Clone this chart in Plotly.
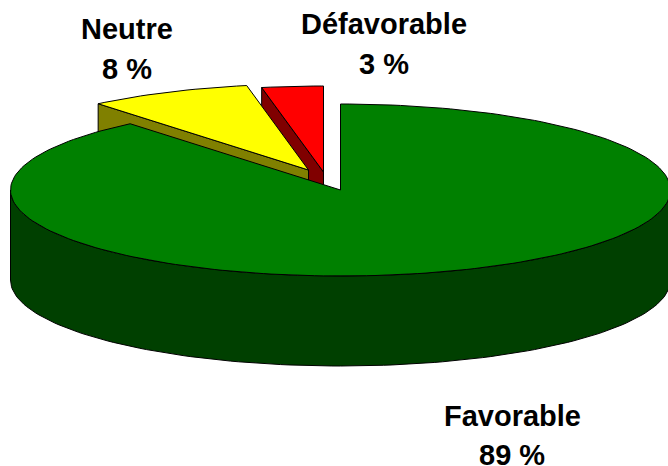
import numpy as np
import plotly.graph_objects as go

categories = ["Favorable", "Neutre", "Défavorable"]
values = [89, 8, 3]
top_colors = ["#008000", "#ffff00", "#ff0000"]
side_colors = ["#004000", "#808000", "#800000"]

# Pixel-like geometry of the projected pie
CX, CY, RX, RY, DEPTH = 340.5, 190, 330, 86, 90
offsets = {"Favorable": (0, 0), "Neutre": (-32, -20), "Défavorable": (-17, -18)}
label_pos = {"Favorable": (512, 416, 455), "Neutre": (127, 29, 69), "Défavorable": (383.5, 24, 64)}

fig = go.Figure()


def poly(xs, ys, fill):
    fig.add_trace(go.Scatter(x=xs, y=ys, mode="lines", fill="toself", fillcolor=fill,
                             line=dict(color="#000000", width=1), hoverinfo="skip",
                             showlegend=False))


def rim(a0, a1, dx=0, dy=0):
    t = np.radians(np.arange(a0, a1 + 0.5, 1.5))
    t = np.append(t, np.radians(a1))
    return CX + dx + RX * np.sin(t), CY + dy - RY * np.cos(t)


# clockwise from 12 o'clock
ends = np.cumsum(values) / sum(values) * 360
starts = np.concatenate(([0], ends[:-1]))
sector = {c: (s, e) for c, s, e in zip(categories, starts, ends)}


def draw(i):
    c = categories[i]
    a0, a1 = sector[c]
    dx, dy = offsets[c]
    if c != "Favorable":
        ex, ey = rim(a0, a0, dx, dy)
        px, py = CX + dx, CY + dy
        poly([px, ex[0], ex[0], px, px], [py, ey[0], ey[0] + DEPTH, py + DEPTH, py], side_colors[i])
    else:
        xs, ys = rim(90, 270)
        poly(list(xs) + list(xs[::-1]) + [xs[0]],
             list(ys) + list((ys + DEPTH)[::-1]) + [ys[0]], side_colors[i])
    xs, ys = rim(a0, a1, dx, dy)
    poly([CX + dx] + list(xs) + [CX + dx], [CY + dy] + list(ys) + [CY + dy], top_colors[i])


# back-to-front painter's order
for i in [2, 1, 0]:
    draw(i)

for c, v in zip(categories, values):
    x, y1, y2 = label_pos[c]
    for txt, y in ((c, y1), (f"{v} %", y2)):
        fig.add_annotation(x=x, y=y, text=f"<b>{txt}</b>", showarrow=False,
                           font=dict(family="Liberation Sans", size=29, color="#000000"))

fig.update_xaxes(range=[0, 668], visible=False, fixedrange=True)
fig.update_yaxes(range=[466, 0], visible=False, fixedrange=True)
fig.update_layout(width=668, height=466, margin=dict(l=0, r=0, t=0, b=0),
                  paper_bgcolor="#ffffff", plot_bgcolor="#ffffff", showlegend=False)
fig.write_html("out.html", config={"displayModeBar": False},
               post_script="document.body.style.margin='0';document.documentElement.style.overflow='hidden';")
